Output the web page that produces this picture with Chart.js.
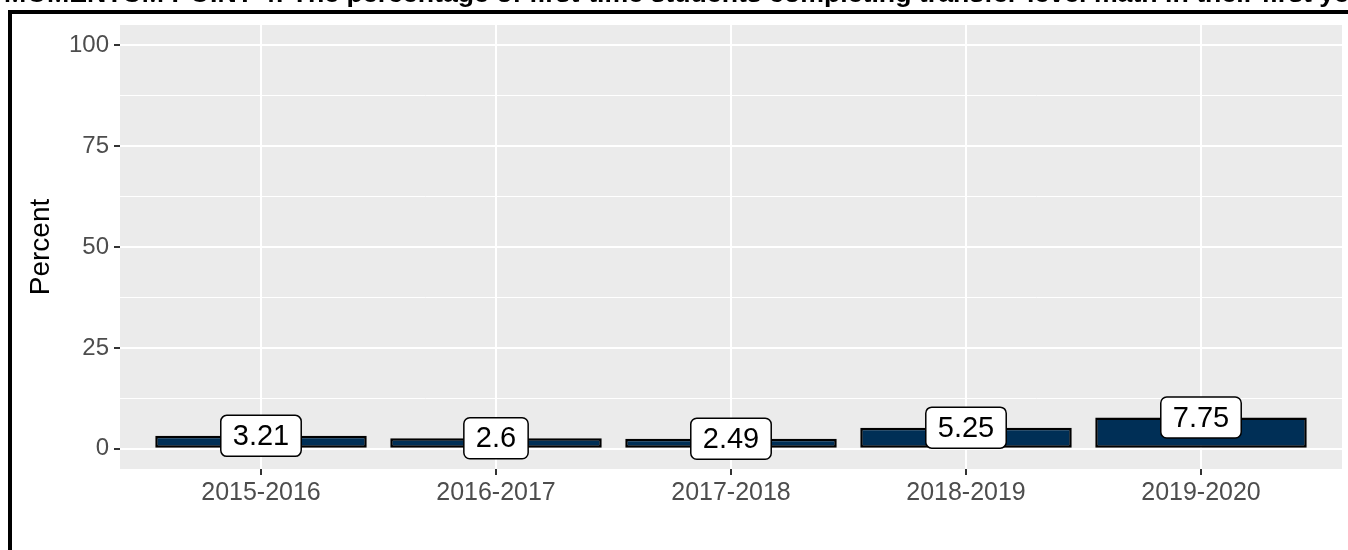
<!DOCTYPE html>
<html>
<head>
<meta charset="utf-8">
<script src="https://cdn.jsdelivr.net/npm/chart.js@4"></script>
<style>
  html, body { margin: 0; padding: 0; background: #fff; overflow: hidden; }
  #wrap { position: relative; width: 1348px; height: 550px; overflow: hidden; }
  #titulo {
    position: absolute; left: 4px; top: -20px; white-space: nowrap;
    font: bold 26.7px "Liberation Sans", Arial, sans-serif; line-height: 26px; color: #000;
  }
  #marco {
    position: absolute; left: 8px; top: 10px; width: 1340px; height: 540px;
    border-top: 4px solid #000; border-left: 4px solid #000; pointer-events: none;
  }
  canvas { position: absolute; left: 0; top: 0; }
</style>
</head>
<body>
<div id="wrap">
  <canvas id="myChart" width="1348" height="550"></canvas>
  <div id="titulo">MOMENTUM POINT 4: The percentage of first-time students completing transfer-level math in their first year</div>
  <div id="marco"></div>
</div>
<script>
// datos
const anios = ['2015-2016', '2016-2017', '2017-2018', '2018-2019', '2019-2020'];
const porcentajes = [3.21, 2.6, 2.49, 5.25, 7.75];
const etiquetas = ['3.21', '2.6', '2.49', '5.25', '7.75'];
const ticksY = [0, 12.5, 25, 37.5, 50, 62.5, 75, 87.5, 100];

const fuente = '"Liberation Sans", Arial, sans-serif';

// fondo gris del panel (estilo ggplot)
const fondoPanel = {
    id: 'fondoPanel',
    beforeDraw(chart) {
        const ctx = chart.ctx;
        const a = chart.chartArea;
        ctx.save();
        ctx.fillStyle = '#fff';
        ctx.fillRect(0, 0, chart.width, chart.height);
        ctx.fillStyle = '#EBEBEB';
        ctx.fillRect(a.left, a.top, a.right - a.left, a.bottom - a.top);
        ctx.restore();
    }
};

// cajas blancas con el valor de cada barra
const etiquetasBarras = {
    id: 'etiquetasBarras',
    afterDatasetsDraw(chart) {
        const ctx = chart.ctx;
        const meta = chart.getDatasetMeta(0);
        ctx.save();
        ctx.font = '29px ' + fuente;
        ctx.textAlign = 'center';
        ctx.textBaseline = 'middle';
        meta.data.forEach(function (barra, i) {
            const texto = etiquetas[i];
            const w = ctx.measureText(texto).width + 24;
            const h = 41;
            const x = barra.x - w / 2;
            const y = barra.y - h / 2;
            ctx.beginPath();
            ctx.roundRect(x, y, w, h, 6);
            ctx.fillStyle = '#fff';
            ctx.fill();
            ctx.lineWidth = 1.5;
            ctx.strokeStyle = '#000';
            ctx.stroke();
            ctx.fillStyle = '#000';
            ctx.fillText(texto, barra.x, barra.y + 1);
        });
        ctx.restore();
    }
};

const ctx = document.getElementById('myChart').getContext('2d');
const myChart = new Chart(ctx, {
    type: 'bar',
    data: {
        datasets: [{
            data: porcentajes.map((v, i) => ({ x: i, y: v })),
            backgroundColor: '#002F56',
            borderColor: '#000',
            borderWidth: 2.5,
            borderSkipped: false,
            barPercentage: 0.9,
            categoryPercentage: 1.0
        }]
    },
    options: {
        responsive: false,
        animation: false,
        layout: { padding: { top: 25, right: 6, left: 0, bottom: 0 } },
        plugins: {
            legend: { display: false },
            tooltip: { enabled: false }
        },
        scales: {
            x: {
                type: 'linear',
                offset: false,
                min: -0.6,
                max: 4.6,
                afterBuildTicks: function (scale) {
                    scale.ticks = anios.map((a, i) => ({ value: i }));
                },
                afterFit: function (scale) { scale.height = 81; },
                ticks: {
                    callback: (v) => anios[v],
                    font: { size: 25, family: fuente },
                    color: '#4D4D4D',
                    padding: 3,
                    maxRotation: 0,
                    autoSkip: false
                },
                grid: {
                    offset: false,
                    color: '#fff',
                    lineWidth: 2,
                    tickColor: '#333',
                    tickLength: 6,
                    tickWidth: 2
                },
                border: { display: false }
            },
            y: {
                min: -5,
                max: 105,
                afterBuildTicks: function (scale) {
                    scale.ticks = ticksY.map(v => ({ value: v }));
                },
                afterFit: function (scale) { scale.width = 120; },
                ticks: {
                    callback: (v) => (v % 25 === 0 ? v : ''),
                    font: { size: 24, family: fuente },
                    color: '#4D4D4D',
                    padding: 5
                },
                grid: {
                    color: '#fff',
                    lineWidth: (c) => (c.tick && c.tick.value % 25 === 0 ? 2 : 1),
                    tickColor: (c) => (c.tick && c.tick.value % 25 === 0 ? '#333' : 'rgba(0,0,0,0)'),
                    tickLength: 6,
                    tickWidth: 2
                },
                border: { display: false },
                title: {
                    display: true,
                    text: 'Percent',
                    font: { size: 28, family: fuente },
                    color: '#000',
                    padding: { top: 24, bottom: 0 }
                }
            }
        }
    },
    plugins: [fondoPanel, etiquetasBarras]
});
</script>
</body>
</html>
